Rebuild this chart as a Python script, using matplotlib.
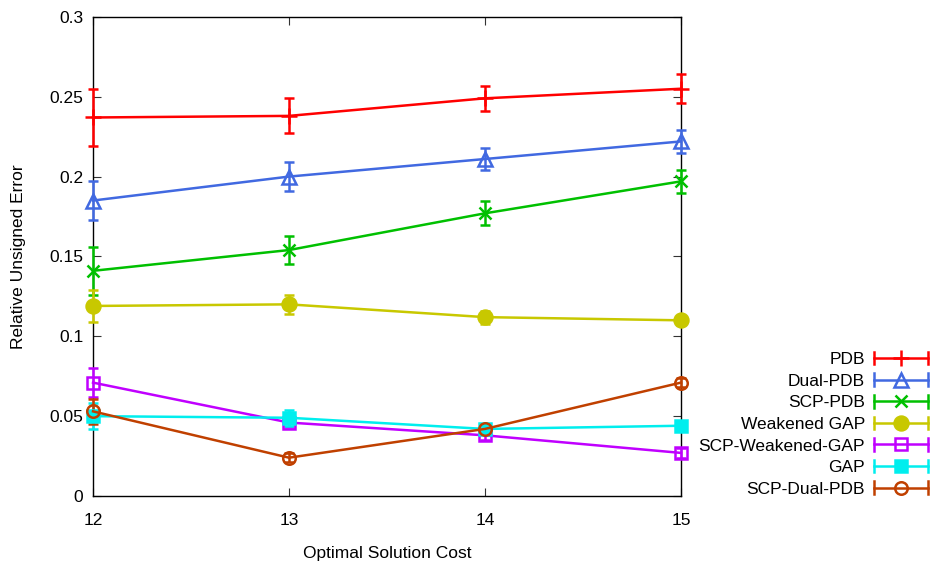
import matplotlib.pyplot as plt
from matplotlib.legend_handler import HandlerBase
from matplotlib.lines import Line2D

plt.rcParams["font.family"] = ["Liberation Sans", "DejaVu Sans"]

cost = [12, 13, 14, 15]

series = ["PDB", "Dual-PDB", "SCP-PDB", "Weakened GAP",
          "SCP-Weakened-GAP", "GAP", "SCP-Dual-PDB"]

pdb = [0.237, 0.238, 0.249, 0.255]
pdb_err = [0.018, 0.011, 0.008, 0.009]
dual_pdb = [0.185, 0.200, 0.211, 0.222]
dual_pdb_err = [0.012, 0.009, 0.007, 0.007]
scp_pdb = [0.141, 0.154, 0.177, 0.197]
scp_pdb_err = [0.015, 0.009, 0.0075, 0.007]
weak_gap = [0.119, 0.120, 0.112, 0.110]
weak_gap_err = [0.010, 0.006, 0.004, 0.003]
scp_weak_gap = [0.071, 0.046, 0.038, 0.027]
scp_weak_gap_err = [0.009, 0.003, 0.003, 0.003]
gap = [0.050, 0.049, 0.042, 0.044]
gap_err = [0.008, 0.005, 0.003, 0.003]
scp_dual_pdb = [0.053, 0.024, 0.042, 0.071]
scp_dual_pdb_err = [0.008, 0.003, 0.003, 0.003]

values = [pdb, dual_pdb, scp_pdb, weak_gap, scp_weak_gap, gap, scp_dual_pdb]
errors = [pdb_err, dual_pdb_err, scp_pdb_err, weak_gap_err,
          scp_weak_gap_err, gap_err, scp_dual_pdb_err]

# gnuplot-like styles
styles = [
    dict(color="#ff0000", marker="+", ms=11, fill="full"),
    dict(color="#4169e1", marker="^", ms=10, fill="none"),
    dict(color="#00c000", marker="x", ms=9, fill="full"),
    dict(color="#c8c800", marker="o", ms=10, fill="full"),
    dict(color="#c000ff", marker="s", ms=9, fill="none"),
    dict(color="#00eeee", marker="s", ms=9, fill="full"),
    dict(color="#c04000", marker="o", ms=9, fill="none"),
]


class ErrLineHandler(HandlerBase):
    def __init__(self, st):
        super().__init__()
        self.st = st

    def create_artists(self, legend, orig_handle, xdescent, ydescent,
                       width, height, fontsize, trans):
        c = self.st["color"]
        y = height / 2 - ydescent
        x0, x1 = -xdescent, width - xdescent
        cap = 4.5
        arts = [
            Line2D([x0, x1], [y, y], color=c, lw=1.8),
            Line2D([x0, x0], [y - cap, y + cap], color=c, lw=1.8),
            Line2D([x1, x1], [y - cap, y + cap], color=c, lw=1.8),
            Line2D([(x0 + x1) / 2], [y], color=c, marker=self.st["marker"],
                   ms=self.st["ms"], fillstyle=self.st["fill"],
                   mew=1.8, linestyle="none"),
        ]
        for a in arts:
            a.set_transform(trans)
        return arts


fig = plt.figure(figsize=(9.34, 5.62), dpi=100)
ax = fig.add_axes([0.0996, 0.1174, 0.6294, 0.8526])

handles = []
handler_map = {}
for name, v, e, st in zip(series, values, errors, styles):
    eb = ax.errorbar(cost, v, yerr=e, color=st["color"], lw=1.8,
                     marker=st["marker"], ms=st["ms"], fillstyle=st["fill"],
                     mew=1.8, capsize=3.5, capthick=1.8, elinewidth=1.8,
                     clip_on=False, zorder=3)
    for art in eb.get_children():
        art.set_clip_on(False)
    h = Line2D([], [], color=st["color"], label=name)
    handles.append(h)
    handler_map[h] = ErrLineHandler(st)

ax.set_xlim(12, 15)
ax.set_ylim(0, 0.3)
ax.set_xticks(cost)
ax.set_yticks([0, 0.05, 0.1, 0.15, 0.2, 0.25, 0.3])
ax.set_yticklabels(["0", "0.05", "0.1", "0.15", "0.2", "0.25", "0.3"])
ax.tick_params(direction="in", top=True, right=True, labelsize=12.5,
               length=6, width=0.8, color="#333333", pad=7)
ax.tick_params(axis="x", pad=12)
for s in ax.spines.values():
    s.set_linewidth(1.0)

ax.set_xlabel("Optimal Solution Cost", fontsize=12.5, labelpad=13)
ax.set_ylabel("Relative Unsigned Error", fontsize=12.5, labelpad=17)

leg = ax.legend(handles=handles, handler_map=handler_map,
                loc="upper right", bbox_to_anchor=(1.003, 0.389),
                bbox_transform=fig.transFigure, frameon=False,
                markerfirst=False, fontsize=12.5, handlelength=3.1,
                handletextpad=0.55, labelspacing=0.37, borderpad=0)
for t in leg.get_texts():
    t.set_ha("right")
leg._legend_box.align = "right"

fig.savefig("out.png", dpi=100)
